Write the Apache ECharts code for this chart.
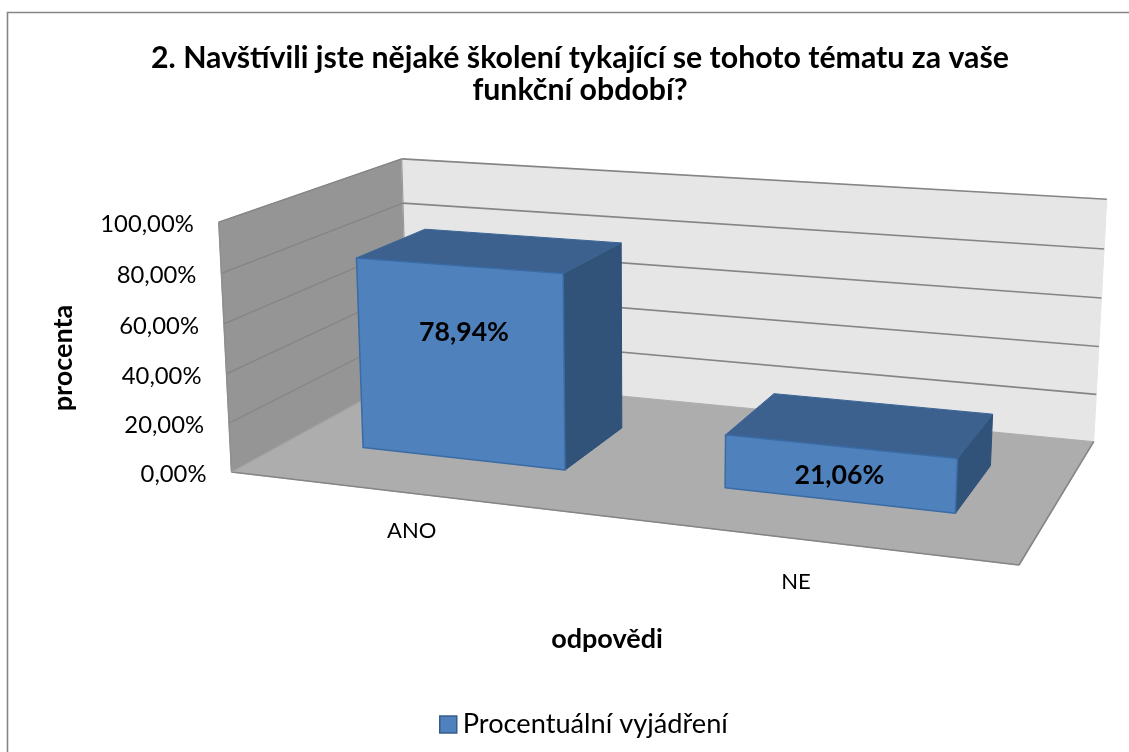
<!DOCTYPE html>
<html><head><meta charset="utf-8"><style>html,body{margin:0;background:#fff}#c{width:1129px;height:752px}</style></head>
<body><div id="c"></div>
<script src="https://cdn.jsdelivr.net/npm/echarts@6/dist/echarts.min.js"></script>
<script>
const categories = ['ANO', 'NE'];
const seriesName = 'Procentuální vyjádření';
const values = [78.94, 21.06];
const valueLabels = ['78,94%', '21,06%'];
const yTicks = [0, 20, 40, 60, 80, 100];
const yTickLabels = ['0,00%', '20,00%', '40,00%', '60,00%', '80,00%', '100,00%'];
const titleText = '2. Navštívili jste nějaké školení tykající se tohoto tématu za vaše\nfunkční období?';
const xName = 'odpovědi';
const yName = 'procenta';

// Camera: where the box's corners land on the page.
const FLOOR = [[231.5,472],[1019,565],[1093.7,441.7],[408,375.4]]; // front-left, front-right, back-right, back-left
const TOP_TIES = [[0,0,218.5,220.5],[0,1,402,158],[1,1,1106.7,202]]; // u, v, page x, page y of wall tops
const BAR_WIDTH = 0.287, BAR_SHIFT = 0.0015, DEPTH_FRONT = 0.303, DEPTH_BACK = 0.702;
const FONT = 'Lato';

// One projective camera for the whole box: P(u,v,t) = (X(u,v)+c*t, Y(u,v)+d*t) / (W(u,v)+i*t)
function floorCamera(q){
  const [p0,p1,p2,p3]=q;
  const dx1=p1[0]-p2[0],dx2=p3[0]-p2[0],sx=p0[0]-p1[0]+p2[0]-p3[0];
  const dy1=p1[1]-p2[1],dy2=p3[1]-p2[1],sy=p0[1]-p1[1]+p2[1]-p3[1];
  const det=dx1*dy2-dx2*dy1,g=(sx*dy2-dx2*sy)/det,h=(dx1*sy-sx*dy1)/det;
  const a=p1[0]-p0[0]+g*p1[0],b=p3[0]-p0[0]+h*p3[0],d=p1[1]-p0[1]+g*p1[1],e=p3[1]-p0[1]+h*p3[1];
  return {X:(u,v)=>a*u+b*v+p0[0],Y:(u,v)=>d*u+e*v+p0[1],W:(u,v)=>g*u+h*v+1};
}
const cam=floorCamera(FLOOR);
function fitTop(){
  const mean=a=>a.reduce((s,x)=>s+x,0)/a.length;
  const bx=TOP_TIES.map(([u,v,px])=>px*cam.W(u,v)-cam.X(u,v));
  const by=TOP_TIES.map(([u,v,,py])=>py*cam.W(u,v)-cam.Y(u,v));
  const px=TOP_TIES.map(r=>r[2]),py=TOP_TIES.map(r=>r[3]);
  const mbx=mean(bx),mby=mean(by),mpx=mean(px),mpy=mean(py);
  let n=0,m=0;
  px.forEach((p,k)=>{n+=(bx[k]-mbx)*(p-mpx);m+=(p-mpx)*(p-mpx);});
  py.forEach((p,k)=>{n+=(by[k]-mby)*(p-mpy);m+=(p-mpy)*(p-mpy);});
  const i=-n/m;
  return {c:mbx+mpx*i,d:mby+mpy*i,i};
}
const top3=fitTop();
function project(u,v,t){const w=cam.W(u,v)+top3.i*t;return [(cam.X(u,v)+top3.c*t)/w,(cam.Y(u,v)+top3.d*t)/w];}
// Pixel position on the hidden cartesian grid -> fractions of the box.
function normU(api,cs,i){return (api.coord([i,0])[0]-cs.x)/cs.width;}
function normT(api,cs,val){return (cs.y+cs.height-api.coord([0,val])[1])/cs.height;}
const poly=(pts,fill,stroke,lw)=>({type:'polygon',shape:{points:pts},style:{fill,stroke:stroke||fill,lineWidth:lw===undefined?1:lw,lineJoin:'round'}});
const line=(a,b,stroke,lw)=>({type:'polyline',shape:{points:[a,b]},style:{fill:'none',stroke,lineWidth:lw}});
const txt=(x,y,text,size,weight,align)=>({type:'text',x,y,style:{text,fill:'#000',fontFamily:FONT,fontSize:size,fontWeight:weight,align:align||'center',verticalAlign:'middle'}});

function renderBox(){
  return {type:'group',children:[
    poly([project(0,0,0),project(0,1,0),project(0,1,1),project(0,0,1)],'#959595','#8f8f8f',1),
    poly([project(0,1,0),project(1,1,0),project(1,1,1),project(0,1,1)],'#E6E6E6','#E6E6E6',1),
    line(project(0,1,0),project(0,1,1),'#9a9a9a',1.2),
    poly([project(0,0,0),project(1,0,0),project(1,1,0),project(0,1,0)],'#ADADAD','#ADADAD',1),
    line(project(0,0,0),project(1,0,0),'#858585',1.6),
    line(project(1,0,0),project(1,1,0),'#858585',1.6),
    line(project(0,0,0),project(0,0,1),'#8f8f8f',1.4),
    line(project(0,0,0),project(0,1,0),'#a2a2a2',1.2)
  ]};
}
function renderTick(params,api){
  const t=normT(api,params.coordSys,api.value(0));
  const a=project(0,0,t),b=project(0,1,t),c=project(1,1,t),kids=[];
  if(t>0){kids.push(line(a,b,'#858585',1.3),line(b,c,'#858585',1.6));}
  kids.push(txt(a[0]-25,a[1]+2,yTickLabels[params.dataIndex],23.8,'normal','right'));
  return {type:'group',children:kids};
}
const LABEL_SHIFT=[[2,-30],[-1.5,2]];
function renderBar(params,api){
  const cs=params.coordSys, i=api.value(0);
  const uc=normU(api,cs,i)+BAR_SHIFT, t=normT(api,cs,api.value(1));
  const u0=uc-BAR_WIDTH/2,u1=uc+BAR_WIDTH/2,v0=DEPTH_FRONT,v1=DEPTH_BACK;
  const fbl=project(u0,v0,0),fbr=project(u1,v0,0),ftl=project(u0,v0,t),ftr=project(u1,v0,t);
  const bbr=project(u1,v1,0),btr=project(u1,v1,t),btl=project(u0,v1,t);
  const cx=(fbl[0]+fbr[0]+ftl[0]+ftr[0])/4,cy=(fbl[1]+fbr[1]+ftl[1]+ftr[1])/4;
  const s=LABEL_SHIFT[params.dataIndex];
  return {type:'group',children:[
    poly([fbr,bbr,btr,ftr],'#325379','#2f5178',1),
    poly([ftl,ftr,btr,btl],'#3C618F','#3A6596',1),
    poly([fbl,fbr,ftr,ftl],'#4F81BD','#3A6BA5',1.5),
    txt(cx+s[0],cy+s[1],valueLabels[params.dataIndex],26.7,'bold')
  ]};
}
const CAT_SHIFT=[[3,38],[-5,43]];
function renderCat(params,api){
  const p=project(normU(api,params.coordSys,api.value(0)),0,0),s=CAT_SHIFT[params.dataIndex];
  return txt(p[0]+s[0],p[1]+s[1],categories[params.dataIndex],22,'normal');
}
const chart=echarts.init(document.getElementById('c'),null,{renderer:'canvas'});
chart.setOption({
  animation:false,backgroundColor:'#fff',
  title:{text:titleText,left:575,top:37,textAlign:'center',
    textStyle:{fontFamily:FONT,fontSize:30.3,fontWeight:'bold',color:'#000',lineHeight:32}},
  legend:{data:[seriesName],left:434,top:706,itemWidth:17,itemHeight:17,itemGap:7,icon:'rect',
    itemStyle:{color:'#4F81BD',borderColor:'#385D8A',borderWidth:1.5},
    textStyle:{fontFamily:FONT,fontSize:27.2,color:'#000',padding:[0,0,0,1]}},
  grid:{left:231,top:244,width:752,height:228},
  xAxis:{type:'category',data:categories,show:true,axisLine:{show:false},axisTick:{show:false},axisLabel:{show:false},splitLine:{show:false},
    name:xName,nameLocation:'middle',nameGap:167,nameTextStyle:{fontFamily:FONT,fontSize:27,fontWeight:'bold',color:'#000',align:'center',verticalAlign:'middle'}},
  yAxis:{type:'value',min:0,max:100,interval:20,axisLine:{show:false},axisTick:{show:false},axisLabel:{show:false},splitLine:{show:false},
    name:yName,nameLocation:'middle',nameGap:168,nameRotate:90,nameTextStyle:{fontFamily:FONT,fontSize:27,fontWeight:'bold',color:'#000',align:'center',verticalAlign:'middle'}},
  graphic:[{type:'polyline',silent:true,z:0,shape:{points:[[7.5,752],[7.5,12.5],[1129,12.5]]},style:{fill:'none',stroke:'#868686',lineWidth:1.6}}],
  series:[
    {type:'custom',name:'box',z:1,silent:true,data:[[0]],encode:{x:-1,y:-1},renderItem:renderBox},
    {type:'custom',name:'ticks',z:2,silent:true,data:yTicks.map(v=>[v]),encode:{y:0,x:-1},renderItem:renderTick},
    {type:'custom',name:'cats',z:2,silent:true,data:categories.map((c,i)=>[i]),encode:{x:0,y:-1},renderItem:renderCat},
    {type:'custom',name:seriesName,z:3,itemStyle:{color:'#4F81BD'},data:values.map((v,i)=>[i,v]),encode:{x:0,y:1},renderItem:renderBar}
  ]
});
</script></body></html>
